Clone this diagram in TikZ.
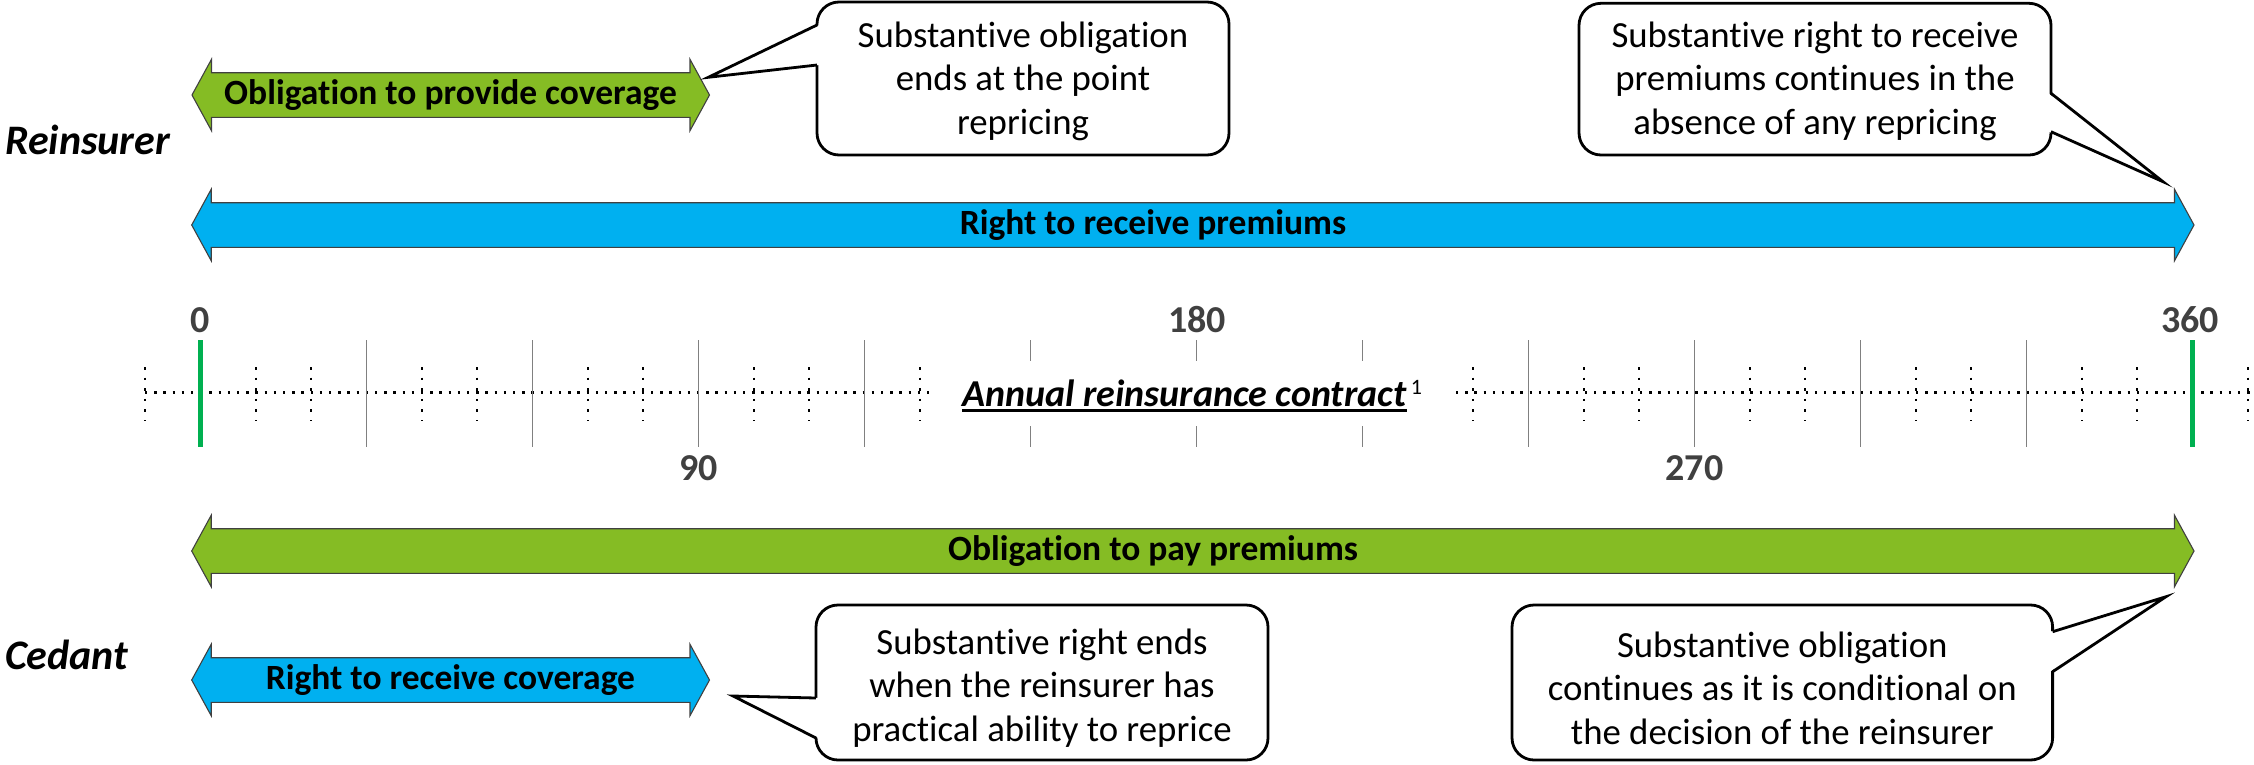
\documentclass[tikz,border=0pt]{standalone}
\usepackage{fontspec}
\setmainfont{Carlito}[Ligatures=NoCommon]
\usetikzlibrary{calc}

\definecolor{leaf}{RGB}{133,188,36}
\definecolor{sky}{RGB}{0,176,240}
\definecolor{bound}{RGB}{0,176,80}
\definecolor{numgray}{RGB}{64,64,64}
\definecolor{tickgray}{RGB}{128,128,128}

\tikzset{
  barlabel/.style={inner sep=0pt, font=\fontsize{35.5}{40}\selectfont\bfseries},
  party/.style={inner sep=0pt, anchor=west, font=\fontsize{42}{46}\selectfont\bfseries\itshape},
  daynum/.style={inner sep=0pt, text=numgray, font=\fontsize{38}{42}\selectfont\bfseries},
  bubble/.style={draw=black, line width=2.8pt, fill=white, rounded corners=22pt, inner sep=0pt},
  bubbletext/.style={inner sep=0pt, align=center, font=\fontsize{36.8}{43.5}\selectfont},
  pointeredge/.style={draw=black, line width=2.8pt, line join=miter},
  hdots/.style={line width=2.4pt, dash pattern=on 2.4pt off 6.8pt},
  vdots/.style={line width=2.4pt, dash pattern=on 2.6pt off 8pt},
  daytick/.style={draw=tickgray, line width=1.4pt},
  boundline/.style={draw=bound, line width=5pt},
}

% double-headed block arrow: name, left tip x, right tip x, centre y, fill, label x, label
\newcommand\spanarrow[7]{%
  \filldraw[fill=#5, draw=black!75, line width=1.1pt]
    (#2,#4) -- (#2+19.5,#4-35.7) -- (#2+19.5,#4-22.3) -- (#3-19.5,#4-22.3)
    -- (#3-19.5,#4-35.7) -- (#3,#4) -- (#3-19.5,#4+35.7) -- (#3-19.5,#4+22.3)
    -- (#2+19.5,#4+22.3) -- (#2+19.5,#4+35.7) -- cycle;
  \node[barlabel] (#1) at (#6,#4) {#7};
}

% speech bubble: name, L, R, T, B, text centre y, text
\newcommand\bubblebox[7]{%
  \node[bubble, minimum width=#3-#2, minimum height=#5-#4] (#1) at ({(#2+#3)/2},{(#4+#5)/2}) {};
  \node[bubbletext] (#1-text) at (#1.center |- 0,#6) {#7};
}
% pointer of a bubble: x of the side, y1, y2, tip; last = inward offset of the white patch
\newcommand\bubblepointer[6]{%
  \fill[white] (#1+#6,#2) -- (#4,#5) -- (#1+#6,#3) -- cycle;
  \draw[pointeredge] (#1,#2) -- (#4,#5) -- (#1,#3);
}

\begin{document}
\begin{tikzpicture}[x=1pt, y=-1pt]
\useasboundingbox (0,0) rectangle (2254,764);

% party names
\node[party] (reinsurer) at (5,140) {Reinsurer};
\node[party] (cedant) at (5,655) {Cedant};

% rights and obligations
\spanarrow{provide}{192}{709.5}{95}{leaf}{450.5}{Obligation to provide coverage}
\spanarrow{receivepremium}{191.7}{2194}{225}{sky}{1153}{Right to receive premiums}
\spanarrow{paypremium}{191.7}{2194}{551}{leaf}{1153}{Obligation to pay premiums}
\spanarrow{receivecover}{191.7}{709.5}{680}{sky}{450.5}{Right to receive coverage}

% callouts
\bubblebox{noteA}{817}{1229}{2}{155}{81}{Substantive obligation\\ends at the point\\repricing}
\bubblepointer{817}{25}{65}{708.3}{77.3}{2.5}
\bubblebox{noteB}{1579}{2051}{3.3}{155}{81}{Substantive right to receive\\premiums continues in the\\absence of any repricing}
\bubblepointer{2051}{93.3}{131.7}{2163}{181.7}{-2.5}
\bubblebox{noteC}{816}{1268}{605}{760}{688}{Substantive right ends\\when the reinsurer has\\practical ability to reprice}
\bubblepointer{816}{698}{738}{733}{696}{2.5}
\bubblebox{noteD}{1512}{2052.6}{605}{760}{688}{Substantive obligation\\continues as it is conditional on\\the decision of the reinsurer}
\bubblepointer{2052.6}{631.7}{671.7}{2166}{596.7}{-2.5}

% timeline: dotted axis and the ten-day marks
\draw[hdots] (145,392.5) -- (934,392.5);
\draw[hdots] (1456,392.5) -- (2254,392.5);
\foreach \j in {-1,1,2,4,5,7,8,10,11,13,23,25,26,28,29,31,32,34,35,37}
  \draw[vdots] ({200.5+166*\j/3},367) -- ++(0,54);
% thirty-day marks
\foreach \k in {1,2,3,4,8,9,10,11}
  \draw[daytick] ({200.5+166*\k},340) -- ++(0,107);
\foreach \k in {5,6,7} {
  \draw[daytick] ({200.5+166*\k},340) -- ++(0,21);
  \draw[daytick] ({200.5+166*\k},426) -- ++(0,21);
}
% contract start and end
\draw[boundline] (200.5,340) -- (200.5,447);
\draw[boundline] (2192.5,340) -- (2192.5,447);

% day numbers
\node[daynum] (d0) at (200.5,320) {0};
\node[daynum] (d180) at (1197,320) {180};
\node[daynum] (d360) at (2190,320) {360};
\node[daynum] (d90) at (698.5,468) {90};
\node[daynum] (d270) at (1694.5,468) {270};

% contract caption
\node[inner sep=0pt, anchor=base west, font=\fontsize{38}{42}\selectfont\bfseries\itshape]
  (contract) at (962,406) {Annual reinsurance contract\ };
\draw[line width=2.4pt] ($(contract.base west)+(0,4.5)$) -- ($(contract.base east)+(0,4.5)$);
\node[inner sep=0pt, anchor=base west, font=\fontsize{22}{24}\selectfont]
  (footref) at ($(contract.base east)+(4,-12)$) {1};
\end{tikzpicture}
\end{document}
